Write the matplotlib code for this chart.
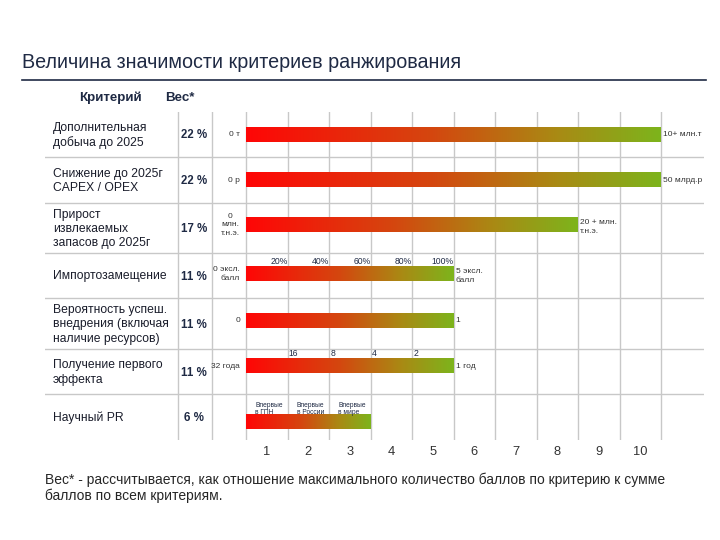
import numpy as np
import matplotlib
matplotlib.use("Agg")
import matplotlib.pyplot as plt
from matplotlib.colors import LinearSegmentedColormap
from matplotlib.lines import Line2D

plt.rcParams['font.family'] = ['Liberation Sans', 'DejaVu Sans']

# ---------------- data ----------------
criteria = ["Дополнительная\nдобыча до 2025",
            "Снижение до 2025г\nCAPEX / OPEX",
            "Прирост\nизвлекаемых\nзапасов до 2025г",
            "Импортозамещение",
            "Вероятность успеш.\nвнедрения (включая\nналичие ресурсов)",
            "Получение первого\nэффекта",
            "Научный PR"]
weights = [22, 22, 17, 11, 11, 11, 6]
scores = [10, 10, 8, 5, 5, 5, 3]
min_labels = ["0 т", "0 р", "0\nмлн.\nт.н.э.", "0 эксл.\nбалл", "0", "32 года", ""]
max_labels = ["10+ млн.т", "50 млрд.р", "20 + млн.\nт.н.э.", "5 эксл.\nбалл", "1", "1 год", ""]
pct_labels = ["20%", "40%", "60%", "80%", "100%"]
year_labels = ["16", "8", "4", "2"]
pr_labels = ["Впервые\nв ГПН", "Впервые\nв России", "Впервые\nв мире"]
ticks = list(range(1, 11))

# ---------------- layout ----------------
W, H = 720, 540
fig = plt.figure(figsize=(7.2, 5.4), dpi=100)
fig.patch.set_facecolor("white")

X0_PX, X1_PX = 45, 704      # table extent
ORIGIN_PX, UNIT_PX = 246, 41.5
Y0_PX, Y1_PX = 112, 440
def px2x(px):
    return (px - ORIGIN_PX) / UNIT_PX

ax = fig.add_axes([X0_PX / W, 1 - Y1_PX / H, (X1_PX - X0_PX) / W, (Y1_PX - Y0_PX) / H])
row_h = [45, 46, 50, 45, 51, 45, 46]
bounds = np.concatenate([[0], np.cumsum(row_h)])
centers = (bounds[:-1] + bounds[1:]) / 2
bar_off = [0, 0, -3, -1.5, -2.5, -5.5, 5]
bar_h = 15

ax.set_xlim(px2x(X0_PX), px2x(X1_PX))
ax.set_ylim(bounds[-1], 0)
for s in ax.spines.values():
    s.set_visible(False)

navy = "#1f2a44"
text_c = "#1a1d2b"
grid_c = "#c8c8c8"

# grid
for b in bounds[1:-1]:
    ax.axhline(b, color=grid_c, lw=1.0, zorder=1)
for xv in [px2x(177.7), px2x(211.7)] + list(range(0, 11)):
    ax.axvline(xv, color=grid_c, lw=1.0, zorder=1)

# gradient bars
cmap = LinearSegmentedColormap.from_list(
    "rg", [(0.0, "#ff0606"), (0.45, "#d4470f"), (0.75, "#a98a14"), (1.0, "#7db41c")])
grad = np.linspace(0, 1, 256).reshape(1, -1)
for i, v in enumerate(scores):
    yc = centers[i] + bar_off[i]
    ax.imshow(grad, cmap=cmap, aspect="auto", interpolation="bilinear",
              extent=(0, v, yc + bar_h / 2, yc - bar_h / 2), zorder=2)
ax.set_xlim(px2x(X0_PX), px2x(X1_PX))
ax.set_ylim(bounds[-1], 0)

# table text
for i in range(len(criteria)):
    yc = centers[i]
    ax.text(px2x(53), yc + 1, criteria[i], ha="left", va="center", fontsize=8.7,
            color=text_c, linespacing=1.25, multialignment="left")
    ax.text(px2x(194), yc + 1, f"{weights[i]} %", ha="center", va="center",
            fontsize=8.3, fontweight="bold", color=navy)
    byc = yc + bar_off[i]
    if min_labels[i]:
        ax.text(px2x(240), byc, min_labels[i], ha="right", va="center", fontsize=6,
                color="#333333", multialignment="center" if i == 2 else "right",
                linespacing=1.3)
    if max_labels[i]:
        ax.text(scores[i] + 0.05, byc + (2 if "\n" in max_labels[i] else 0), max_labels[i],
                ha="left", va="center", fontsize=6, color="#333333", linespacing=1.3)

# extra scale labels
for k, lab in enumerate(pct_labels):
    ax.text(k + 1, centers[3] + bar_off[3] - 13, lab, ha="right", va="center",
            fontsize=6.2, color=navy)
for k, lab in enumerate(year_labels):
    ax.text(k + 1 + 0.03, centers[5] + bar_off[5] - 13, lab, ha="left", va="center",
            fontsize=6.2, color=navy)
for k, lab in enumerate(pr_labels):
    ax.text(k + 0.55, centers[6] + bar_off[6] - 13, lab, ha="center", va="center",
            fontsize=4.8, color=navy, multialignment="left", linespacing=1.0)

# x ticks
ax.set_xticks([t - 0.5 for t in ticks])
ax.set_xticklabels([str(t) for t in ticks], fontsize=9.3, color="#333333")
ax.tick_params(axis="x", length=0, pad=4)
ax.set_yticks([])

# title, rule, headers, footnote
fig.text(22 / W, 1 - 62 / H, "Величина значимости критериев ранжирования",
         ha="left", va="center", fontsize=14.2, color=navy)
fig.add_artist(Line2D([22 / W, 706 / W], [1 - 79.5 / H] * 2, color=navy, lw=1.2,
                      transform=fig.transFigure))
fig.text(110 / W, 1 - 98 / H, "Критерий", ha="center", va="center", fontsize=9.6,
         fontweight="bold", color=navy)
fig.text(180 / W, 1 - 98 / H, "Вес*", ha="center", va="center", fontsize=9.6,
         fontweight="bold", color=navy)
fig.text(45 / W, 1 - 488 / H,
         "Вес* - рассчитывается, как отношение максимального количество баллов по критерию к сумме\n"
         "баллов по всем критериям.", ha="left", va="center", fontsize=10.0,
         color="#262626", linespacing=1.15)

fig.savefig("out.png", dpi=100, facecolor="white")
